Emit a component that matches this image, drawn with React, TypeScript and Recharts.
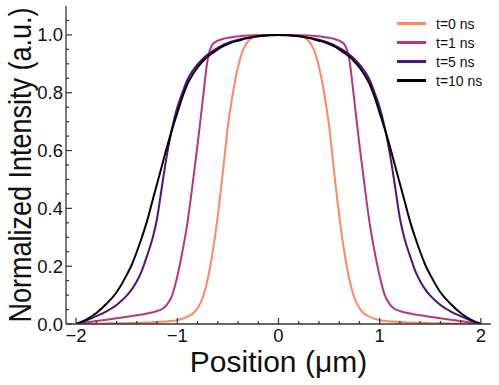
import { LineChart, Line, XAxis, YAxis, Label } from "recharts";

const xs = [
  -2, -1.9, -1.8, -1.7, -1.6, -1.5, -1.45, -1.4, -1.35, -1.3, -1.25, -1.2, -1.15, -1.1, -1.05, -1,
  -0.95, -0.9, -0.85, -0.8, -0.75, -0.7, -0.65, -0.6, -0.55, -0.5, -0.45, -0.4, -0.35, -0.3, -0.2, -0.1,
  0,
  0.1, 0.2, 0.3, 0.35, 0.4, 0.45, 0.5, 0.55, 0.6, 0.65, 0.7, 0.75, 0.8, 0.85, 0.9, 0.95,
  1, 1.05, 1.1, 1.15, 1.2, 1.25, 1.3, 1.35, 1.4, 1.45, 1.5, 1.6, 1.7, 1.8, 1.9, 2,
];

const t0 = [
  0, 0.001, 0.001, 0.002, 0.003, 0.003, 0.004, 0.004, 0.005, 0.005, 0.006, 0.007, 0.008, 0.009, 0.011, 0.013,
  0.018, 0.026, 0.035, 0.055, 0.09, 0.155, 0.25, 0.375, 0.525, 0.685, 0.8, 0.89, 0.948, 0.978, 0.998, 1.0,
  1.0,
  1.0, 0.998, 0.978, 0.948, 0.89, 0.8, 0.685, 0.525, 0.375, 0.25, 0.155, 0.09, 0.055, 0.035, 0.026, 0.018,
  0.013, 0.011, 0.009, 0.008, 0.007, 0.006, 0.005, 0.005, 0.004, 0.004, 0.003, 0.003, 0.002, 0.001, 0.001, 0,
];

const t1 = [
  0, 0.005, 0.01, 0.015, 0.02, 0.025, 0.028, 0.03, 0.033, 0.036, 0.04, 0.045, 0.052, 0.068, 0.1, 0.165,
  0.25, 0.35, 0.48, 0.62, 0.77, 0.915, 0.968, 0.98, 0.986, 0.99, 0.993, 0.995, 0.997, 0.998, 0.999, 1.0,
  1.0,
  1.0, 0.999, 0.998, 0.997, 0.995, 0.993, 0.99, 0.986, 0.98, 0.968, 0.915, 0.77, 0.62, 0.48, 0.35, 0.25,
  0.165, 0.1, 0.068, 0.052, 0.045, 0.04, 0.036, 0.033, 0.03, 0.028, 0.025, 0.02, 0.015, 0.01, 0.005, 0,
];

const t5 = [
  0, 0.012, 0.027, 0.044, 0.066, 0.098, 0.12, 0.148, 0.185, 0.235, 0.29, 0.365, 0.48, 0.59, 0.68, 0.75,
  0.8, 0.845, 0.875, 0.898, 0.917, 0.932, 0.945, 0.955, 0.965, 0.972, 0.978, 0.983, 0.987, 0.99, 0.996, 0.999,
  1.0,
  0.999, 0.996, 0.99, 0.987, 0.983, 0.978, 0.972, 0.965, 0.955, 0.945, 0.932, 0.917, 0.898, 0.875, 0.845, 0.8,
  0.75, 0.68, 0.59, 0.48, 0.365, 0.29, 0.235, 0.185, 0.148, 0.12, 0.098, 0.066, 0.044, 0.027, 0.012, 0,
];

const t10 = [
  0, 0.015, 0.038, 0.07, 0.11, 0.17, 0.205, 0.25, 0.3, 0.355, 0.42, 0.485, 0.55, 0.615, 0.675, 0.73,
  0.785, 0.83, 0.862, 0.888, 0.908, 0.925, 0.938, 0.95, 0.96, 0.968, 0.975, 0.98, 0.985, 0.989, 0.995, 0.999,
  1.0,
  0.999, 0.995, 0.989, 0.985, 0.98, 0.975, 0.968, 0.96, 0.95, 0.938, 0.925, 0.908, 0.888, 0.862, 0.83, 0.785,
  0.73, 0.675, 0.615, 0.55, 0.485, 0.42, 0.355, 0.3, 0.25, 0.205, 0.17, 0.11, 0.07, 0.038, 0.015, 0,
];

const seriesKeys = ["t0", "t1", "t5", "t10"];
const seriesNames = ["t=0 ns", "t=1 ns", "t=5 ns", "t=10 ns"];
const seriesColors = ["#fc8961", "#b73779", "#51127c", "#000004"];

const xTicks = [-2, -1.8, -1.6, -1.4, -1.2, -1, -0.8, -0.6, -0.4, -0.2, 0, 0.2, 0.4, 0.6, 0.8, 1, 1.2, 1.4, 1.6, 1.8, 2];
const yTicks = [
  0, 0.05, 0.1, 0.15, 0.2, 0.25, 0.3, 0.35, 0.4, 0.45, 0.5, 0.55, 0.6, 0.65, 0.7, 0.75, 0.8, 0.85, 0.9, 0.95, 1, 1.05,
];

const data = xs.map((x, i) => ({ x, t0: t0[i], t1: t1[i], t5: t5[i], t10: t10[i] }));

const FONT = "'Liberation Sans', Arial, sans-serif";
const AXIS = "#333333";
const MAJOR = 6;
const MINOR = 3;

const isMajorX = (v: number) => Math.abs(v - Math.round(v)) < 1e-6;
const isMajorY = (v: number) => Math.abs(v * 5 - Math.round(v * 5)) < 1e-6;
const fmtX = (v: number) => {
  const r = Math.round(v);
  return r < 0 ? "\u2212" + Math.abs(r) : String(r);
};

const BottomTick = ({ x, y, payload }: any) => {
  const major = isMajorX(payload.value);
  return (
    <g>
      <line x1={x} x2={x} y1={y} y2={y - (major ? MAJOR : MINOR)} stroke={AXIS} strokeWidth={1.2} />
      {major && (
        <text x={x} y={y + 18} textAnchor="middle" fontSize={18.5} fontFamily={FONT} fill="#111">
          {fmtX(payload.value)}
        </text>
      )}
    </g>
  );
};

const TopTick = ({ x, y, payload }: any) => {
  const major = isMajorX(payload.value);
  return <line x1={x} x2={x} y1={y} y2={y + (major ? MAJOR : MINOR)} stroke={AXIS} strokeWidth={1.2} />;
};

const LeftTick = ({ x, y, payload }: any) => {
  const major = isMajorY(payload.value);
  return (
    <g>
      <line x1={x} x2={x + (major ? MAJOR : MINOR)} y1={y} y2={y} stroke={AXIS} strokeWidth={1.2} />
      {major && (
        <text x={x - 3} y={y + 6.5} textAnchor="end" fontSize={18.5} fontFamily={FONT} fill="#111">
          {payload.value.toFixed(1)}
        </text>
      )}
    </g>
  );
};

const RightTick = ({ x, y, payload }: any) => {
  const major = isMajorY(payload.value);
  return <line x1={x} x2={x - (major ? MAJOR : MINOR)} y1={y} y2={y} stroke={AXIS} strokeWidth={1.2} />;
};

export default function App() {
  const axisLine = { stroke: AXIS, strokeWidth: 1.3 };
  return (
    <div style={{ position: "absolute", left: 0, top: 0, width: 499, height: 385, background: "#fff" }}>
      <LineChart width={499} height={385} data={data} margin={{ top: 6, right: 8, bottom: 0, left: 0 }}>
        <XAxis
          dataKey="x"
          type="number"
          domain={[-2.1, 2.1]}
          allowDataOverflow
          ticks={xTicks}
          interval={0}
          height={61}
          tickLine={false}
          tickSize={0}
          tickMargin={0}
          axisLine={axisLine}
          tick={(p: any) => <BottomTick {...p} />}
        >
          <Label
            content={() => (
              <text x={278.5} y={372} textAnchor="middle" fontSize={30} fontFamily={FONT} fill="#111">
                Position (μm)
              </text>
            )}
          />
        </XAxis>
        <XAxis
          xAxisId="top"
          orientation="top"
          dataKey="x"
          type="number"
          domain={[-2.1, 2.1]}
          allowDataOverflow
          ticks={xTicks}
          interval={0}
          height={0}
          tickLine={false}
          tickSize={0}
          tickMargin={0}
          axisLine={axisLine}
          tick={(p: any) => <TopTick {...p} />}
        />
        <YAxis
          type="number"
          domain={[0, 1.1]}
          allowDataOverflow
          ticks={yTicks}
          interval={0}
          width={66}
          tickLine={false}
          tickSize={0}
          tickMargin={0}
          axisLine={axisLine}
          tick={(p: any) => <LeftTick {...p} />}
        >
          <Label
            content={() => (
              <text
                x={0}
                y={0}
                transform="translate(31,165) scale(1.15,1) rotate(-90)"
                textAnchor="middle"
                fontSize={27}
                fontFamily={FONT}
                fill="#111"
              >
                Normalized Intensity (a.u.)
              </text>
            )}
          />
        </YAxis>
        <YAxis
          yAxisId="right"
          orientation="right"
          type="number"
          domain={[0, 1.1]}
          allowDataOverflow
          ticks={yTicks}
          interval={0}
          width={0}
          tickLine={false}
          tickSize={0}
          tickMargin={0}
          axisLine={axisLine}
          tick={(p: any) => <RightTick {...p} />}
        />
        {seriesKeys.map((k, i) => (
          <Line
            key={k}
            dataKey={k}
            type="monotone"
            stroke={seriesColors[i]}
            strokeWidth={2}
            dot={false}
            isAnimationActive={false}
          />
        ))}
      </LineChart>
      <div style={{ position: "absolute", left: 397, top: 14, fontFamily: FONT }}>
        {seriesNames.map((name, i) => (
          <div key={name} style={{ display: "flex", alignItems: "center", height: 19 }}>
            <span style={{ width: 29, height: 2.5, background: seriesColors[i], marginRight: 10 }} />
            <span style={{ fontSize: 14, color: "#111" }}>{name}</span>
          </div>
        ))}
      </div>
    </div>
  );
}
